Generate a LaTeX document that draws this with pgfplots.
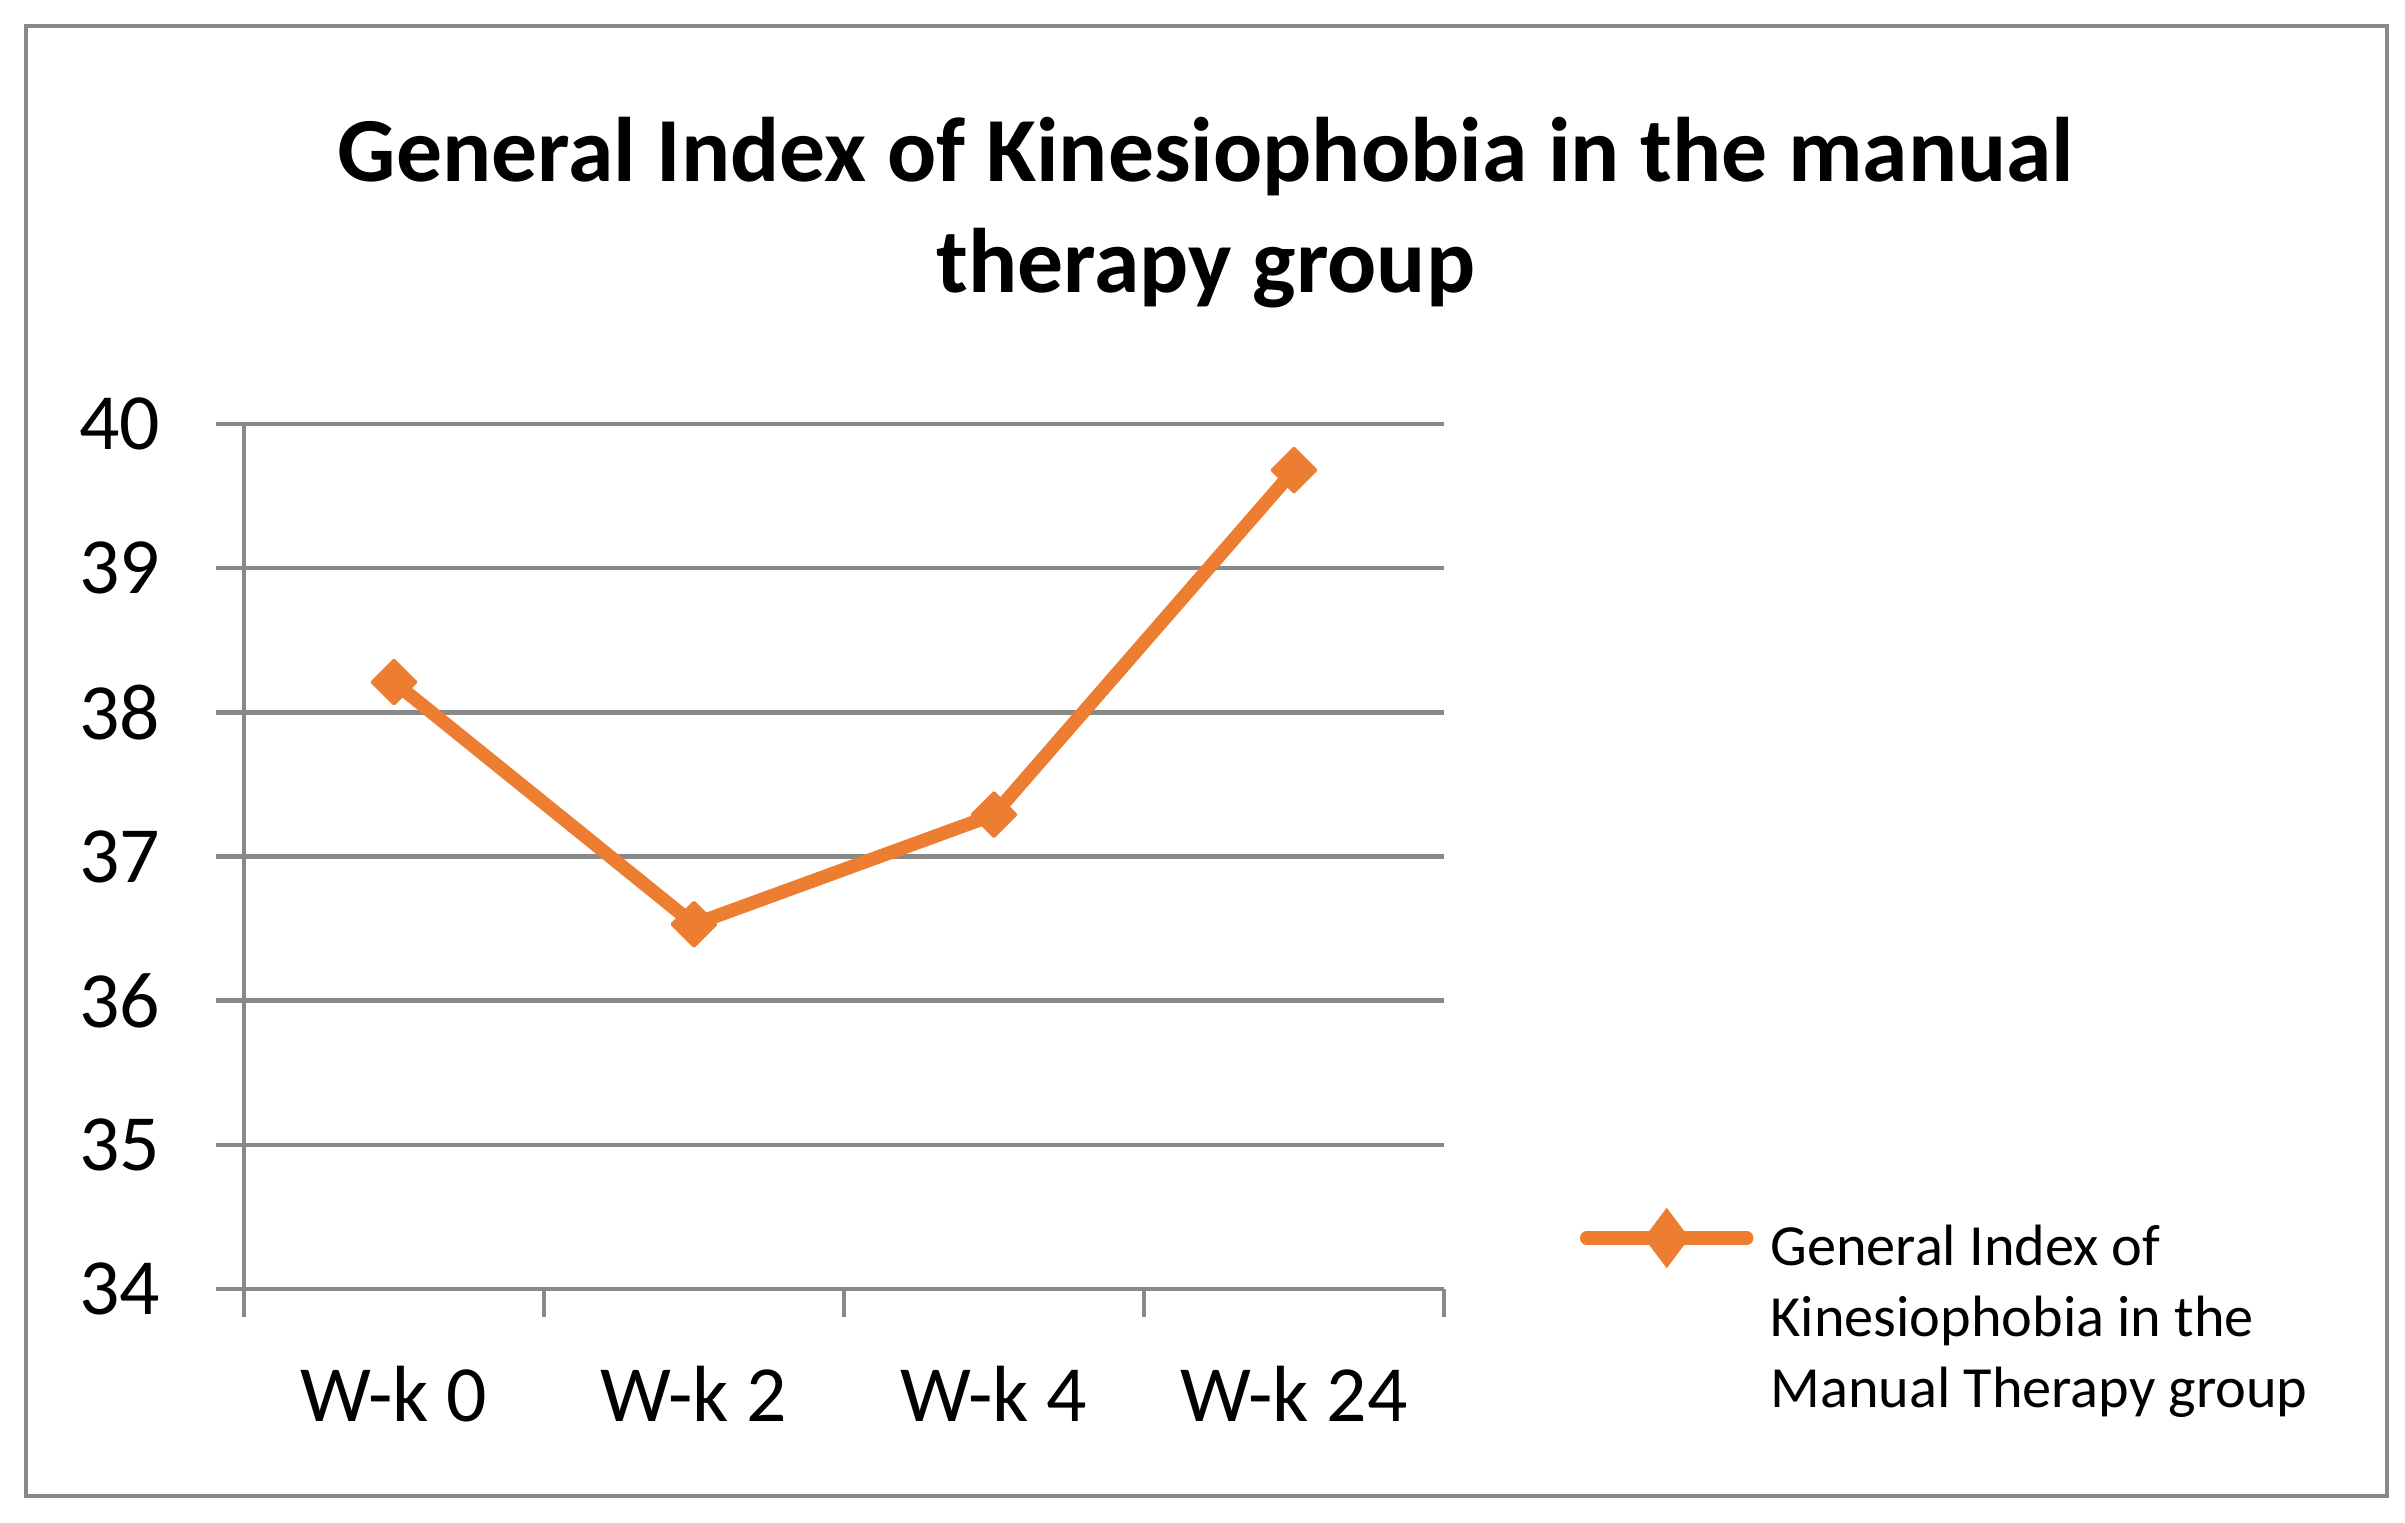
\documentclass[border=0pt]{standalone}
\usepackage{pgfplots}
\pgfplotsset{compat=1.18}
\usepackage{fontspec}
\setmainfont{Carlito}
\definecolor{serorange}{HTML}{ED7D31}
\definecolor{gridgray}{HTML}{898989}
\begin{document}
\begin{tikzpicture}
\useasboundingbox (0,0) rectangle (481bp,304.6bp);
\draw[gridgray, line width=0.9bp] (5.2bp,5.4bp) rectangle (477.4bp,299.4bp);
\begin{axis}[
    at={(48.8bp,46.8bp)}, anchor=south west,
    width=240bp, height=173bp,
    scale only axis,
    axis x line*=bottom, axis y line*=left,
    axis line style={gridgray, line width=0.9bp},
    xmin=-0.5, xmax=3.5,
    ymin=34, ymax=40,
    xtick={-0.5,0.5,1.5,2.5,3.5},
    xticklabels={},
    extra x ticks={0,1,2,3},
    extra x tick labels={W-k 0, W-k 2, W-k 4, W-k 24},
    extra x tick style={major tick length=0pt},
    ytick={34,35,...,40},
    ymajorgrids,
    grid style={gridgray, line width=0.9bp},
    tick align=outside,
    major tick length=5.5bp,
    tick style={gridgray, line width=0.9bp},
    /pgf/number format/assume math mode=true,
    tick label style={font=\fontsize{16}{19}\selectfont},
    xticklabel style={anchor=base, yshift=-26.4bp},
    yticklabel style={anchor=east, xshift=-7.8bp},
    legend style={at={(rel axis cs:1.1,0.052)}, anchor=west, draw=none,
        fill=none, font=\fontsize{11.7}{14.3}\selectfont},
    legend image code/.code={
        \draw[serorange, line width=2.7bp, line cap=round] (0bp,1.2bp) -- (32bp,1.2bp);
        \fill[serorange] (16bp,5bp) -- (18.85bp,1.2bp) -- (16bp,-2.6bp) -- (13.15bp,1.2bp) -- cycle;
        \path (33.4bp,0bp);
    },
    clip=false,
]
\addplot[serorange, line width=2.7bp, mark=square*,
    mark size=3.1bp, mark options={solid, rotate=45, fill=serorange,
    draw=serorange, line width=0.6bp, line join=round}]
    coordinates {(0,38.21) (1,36.53) (2,37.29) (3,39.68)};
\addlegendentry{\begin{tabular}[t]{@{}l@{}}General Index of\\Kinesiophobia in the\\Manual Therapy group\end{tabular}}
\end{axis}
\node[anchor=base, font=\bfseries\fontsize{18.4}{22}\selectfont] at (241.2bp,268.2bp)
    {General Index of Kinesiophobia in the manual};
\node[anchor=base, font=\bfseries\fontsize{18.4}{22}\selectfont] at (241.2bp,246bp)
    {therapy group};
\end{tikzpicture}
\end{document}
